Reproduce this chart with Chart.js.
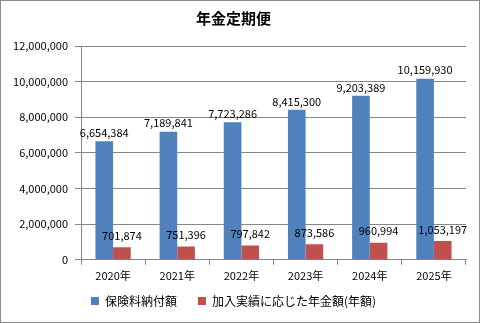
<!DOCTYPE html>
<html>
<head>
<meta charset="utf-8">
<script src="https://cdn.jsdelivr.net/npm/chart.js@4"></script>
<style>
  html, body { margin: 0; padding: 0; background: #fff; }
  #wrap { width: 480px; height: 323px; box-sizing: border-box; border: 1px solid #8c8c8c; background: #fff; }
  canvas { display: block; }
</style>
</head>
<body>
<div id="wrap"><canvas id="c" width="478" height="321"></canvas></div>
<script>
const years = ['2020年', '2021年', '2022年', '2023年', '2024年', '2025年'];
const paidPremiums = [6654384, 7189841, 7723286, 8415300, 9203389, 10159930];
const pensionAmounts = [701874, 751396, 797842, 873586, 960994, 1053197];
const seriesNames = ['保険料納付額', '加入実績に応じた年金額(年額)'];
const chartTitle = '年金定期便';

const FONT = "'Noto Sans CJK JP', 'Noto Sans', sans-serif";
const fmt = v => v.toLocaleString('en-US');

// Value labels drawn above each bar
const valueLabels = {
  id: 'valueLabels',
  afterDatasetsDraw(chart) {
    const ctx = chart.ctx;
    ctx.save();
    ctx.font = '11px ' + FONT;
    ctx.fillStyle = '#000';
    ctx.textAlign = 'center';
    ctx.textBaseline = 'bottom';
    chart.data.datasets.forEach((ds, di) => {
      const meta = chart.getDatasetMeta(di);
      const lift = di === 0 ? 3 : 6;
      meta.data.forEach((bar, i) => {
        ctx.fillText(fmt(ds.data[i]), bar.x, bar.y - lift);
      });
    });
    ctx.restore();
  }
};

const defaultLegendLabels = Chart.defaults.plugins.legend.labels.generateLabels;

new Chart(document.getElementById('c'), {
  type: 'bar',
  data: {
    labels: years,
    datasets: [
      { label: seriesNames[0], data: paidPremiums, backgroundColor: '#4F81BD',
        categoryPercentage: 0.55, barPercentage: 1.0 },
      { label: seriesNames[1], data: pensionAmounts, backgroundColor: '#C0504D',
        categoryPercentage: 0.55, barPercentage: 1.0 }
    ]
  },
  options: {
    responsive: false,
    animation: false,
    devicePixelRatio: 1,
    layout: { padding: { left: 0, right: 13, top: 0, bottom: 5 } },
    plugins: {
      title: {
        display: true, text: chartTitle, color: '#000',
        font: { family: FONT, size: 15, weight: 'bold' },
        padding: { top: 8, bottom: 19 }
      },
      legend: {
        position: 'bottom',
        labels: {
          color: '#000', boxWidth: 8, boxHeight: 8, padding: 9,
          font: { family: FONT, size: 12 },
          // wider spacing between the two legend entries
          generateLabels(chart) {
            const items = defaultLegendLabels(chart);
            items.forEach((it, i) => { if (i < items.length - 1) it.text += '\u3000'; });
            return items;
          }
        }
      },
      tooltip: { enabled: false }
    },
    scales: {
      x: {
        grid: { drawOnChartArea: false, drawTicks: true, tickLength: 5, color: '#868686', offset: true },
        border: { color: '#868686' },
        ticks: { color: '#000', font: { family: FONT, size: 11 }, padding: 4 }
      },
      y: {
        min: 0, max: 12000000,
        afterFit(scale) { scale.width = 80; },
        grid: { color: '#868686', tickLength: 6 },
        border: { color: '#868686' },
        ticks: {
          stepSize: 2000000, color: '#000', padding: 7,
          font: { family: FONT, size: 11 },
          callback: v => fmt(v)
        }
      }
    }
  },
  plugins: [valueLabels]
});
</script>
</body>
</html>
